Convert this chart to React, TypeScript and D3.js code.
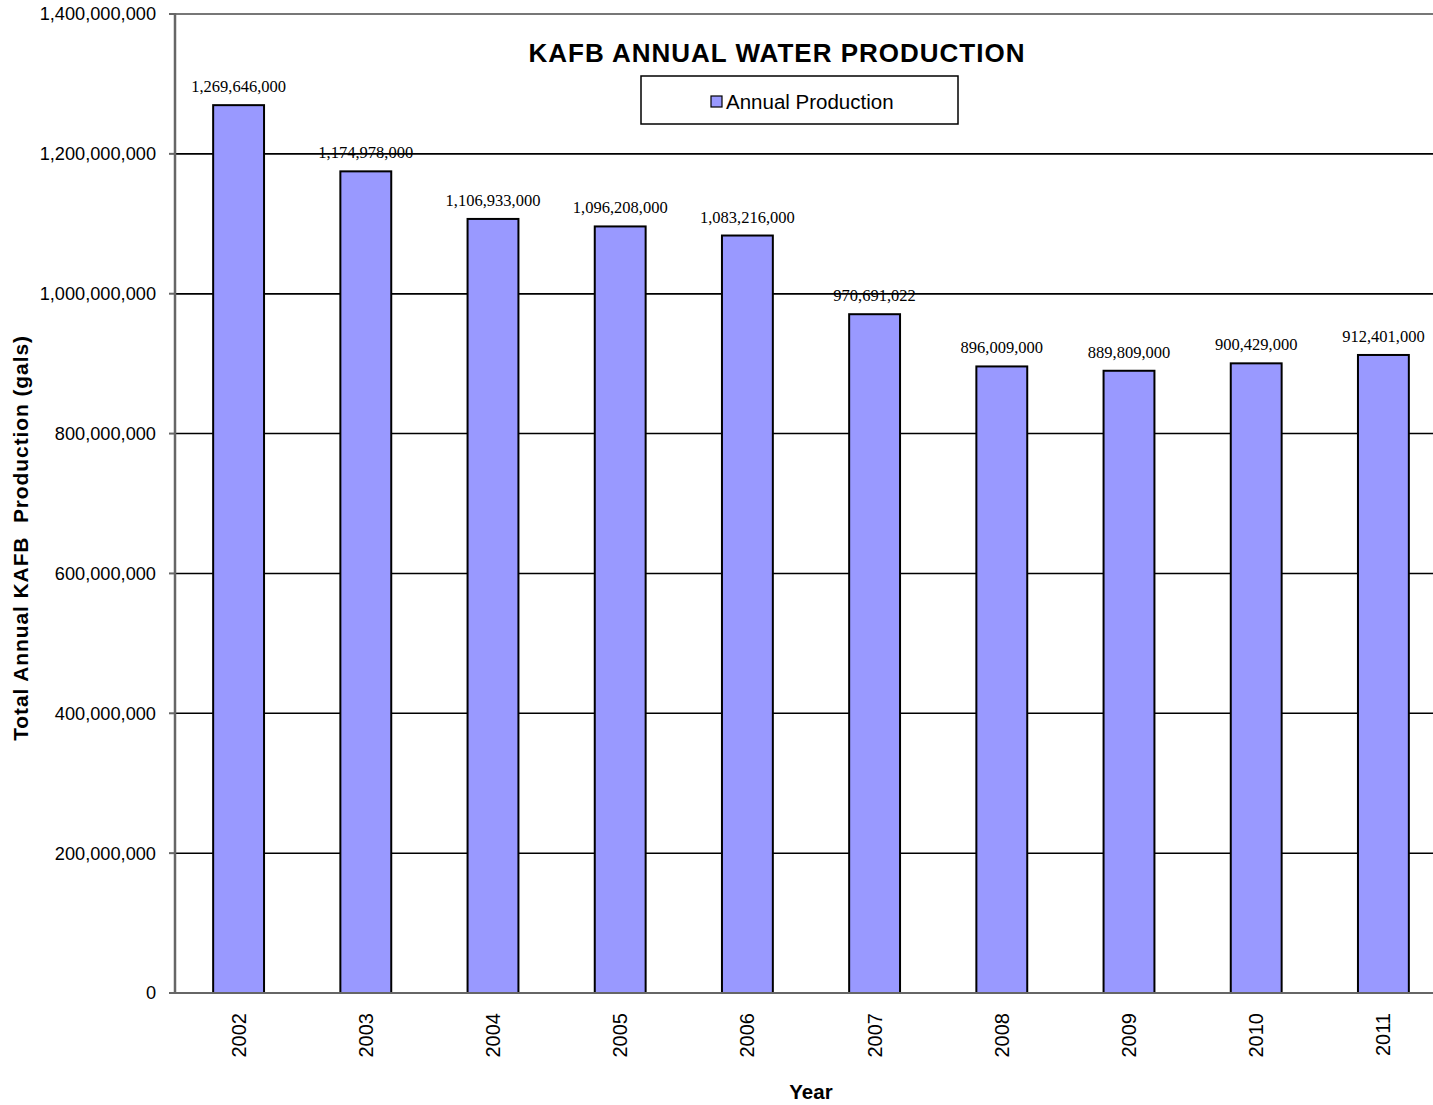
import React from 'react'
import * as d3 from 'd3'

const years = ['2002', '2003', '2004', '2005', '2006', '2007', '2008', '2009', '2010', '2011']
const production = [1269646000, 1174978000, 1106933000, 1096208000, 1083216000, 970691022, 896009000, 889809000, 900429000, 912401000]
const yTicks = [0, 200000000, 400000000, 600000000, 800000000, 1000000000, 1200000000, 1400000000]

const width = 1433
const height = 1105
const margin = { top: 14, left: 175, right: -14, bottom: 112 }
const sans = "'Liberation Sans', Arial, sans-serif"

export default function App() {
  const fmt = d3.format(',')
  const x = d3.scaleBand()
    .domain(years)
    .range([margin.left, width - margin.right])
    .paddingInner(0.6)
    .paddingOuter(0.3)
  const y = d3.scaleLinear()
    .domain([0, 1400000000])
    .range([height - margin.bottom, margin.top])

  const plotRight = width - margin.right
  const base = y(0)

  return (
    <svg width={width} height={height} style={{ position: 'absolute', left: 0, top: 0, background: '#fff' }}>
      {/* gridlines */}
      {yTicks.filter(t => t > 0).map(t => (
        <line key={'g' + t} x1={margin.left} x2={plotRight} y1={y(t)} y2={y(t)}
          stroke={t === 1400000000 ? '#777' : '#000'} strokeWidth={t === 1400000000 ? 2 : 1.5} />
      ))}

      {/* data labels */}
      {years.map((yr, i) => (
        <text key={'l' + yr} x={x(yr)! + x.bandwidth() / 2} y={y(production[i]) - 13}
          textAnchor="middle" fontFamily="'Liberation Serif', 'Times New Roman', serif" fontSize={16.5} fill="#000">
          {fmt(production[i])}
        </text>
      ))}

      {/* gridlines drawn over labels, as in the source */}
      {[1200000000, 1000000000].map(t => (
        <line key={'o' + t} x1={margin.left} x2={plotRight} y1={y(t)} y2={y(t)} stroke="#000" strokeWidth={1.5} />
      ))}

      {/* bars */}
      {years.map((yr, i) => (
        <rect key={yr} x={x(yr)} y={y(production[i])} width={x.bandwidth()} height={base - y(production[i])}
          fill="#9999FF" stroke="#000" strokeWidth={2} />
      ))}

      {/* axes */}
      <line x1={margin.left} x2={margin.left} y1={margin.top - 1} y2={base} stroke="#666" strokeWidth={2.5} />
      <line x1={margin.left - 6} x2={plotRight} y1={base} y2={base} stroke="#666" strokeWidth={2} />
      {yTicks.map(t => (
        <g key={'t' + t}>
          <line x1={margin.left - 6} x2={margin.left} y1={y(t)} y2={y(t)} stroke="#666" strokeWidth={2} />
          <text x={156} y={y(t)} dy="0.35em" textAnchor="end" fontFamily={sans} fontSize={18.2} fill="#000">
            {fmt(t)}
          </text>
        </g>
      ))}
      {years.map(yr => (
        <text key={'x' + yr} transform={`translate(${x(yr)! + x.bandwidth() / 2 + 7}, ${base + 20}) rotate(-90)`}
          textAnchor="end" fontFamily={sans} fontSize={20} fill="#000">
          {yr}
        </text>
      ))}

      {/* axis titles */}
      <text x={811} y={1099} textAnchor="middle" fontFamily={sans} fontSize={20.5} fontWeight="bold">Year</text>
      <text transform={`translate(28, 538) rotate(-90)`} textAnchor="middle" fontFamily={sans} fontSize={21} fontWeight="bold"
        letterSpacing={0.9} style={{ whiteSpace: 'pre' }}>
        {'Total Annual KAFB  Production (gals)'}
      </text>

      {/* title */}
      <text x={777} y={62} textAnchor="middle" fontFamily={sans} fontSize={26} fontWeight="bold" letterSpacing={1}>
        KAFB ANNUAL WATER PRODUCTION
      </text>

      {/* legend */}
      <rect x={641} y={76} width={317} height={48} fill="#fff" stroke="#000" strokeWidth={1.5} />
      <rect x={711} y={96} width={11} height={11} fill="#9999FF" stroke="#000" strokeWidth={1.2} />
      <text x={726} y={109} fontFamily={sans} fontSize={20.5} fill="#000">Annual Production</text>
    </svg>
  )
}
